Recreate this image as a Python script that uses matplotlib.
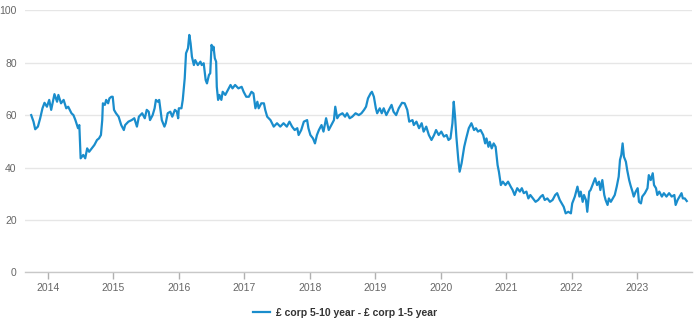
#!/usr/bin/python3

import numpy

from matplotlib import pyplot as plt

# =============================================================================

# spread between the 5-10y and 1-5y sterling corporate indices (decimal years)
years = [
	2013.745, 2013.78, 2013.806, 2013.847, 2013.882, 2013.917, 2013.948, 2013.985,
	2014.02, 2014.05, 2014.10, 2014.14, 2014.16, 2014.20, 2014.24, 2014.28, 2014.31,
	2014.36, 2014.39, 2014.42, 2014.46, 2014.48, 2014.49, 2014.50, 2014.54, 2014.57,
	2014.60, 2014.63, 2014.67, 2014.71, 2014.75, 2014.78, 2014.81, 2014.83, 2014.84,
	2014.87, 2014.89, 2014.92, 2014.94, 2014.97, 2014.99, 2015.01, 2015.04, 2015.08,
	2015.12, 2015.16, 2015.18, 2015.23, 2015.28, 2015.32, 2015.36, 2015.39, 2015.44,
	2015.48, 2015.51, 2015.54, 2015.56, 2015.60, 2015.63, 2015.65, 2015.68, 2015.70,
	2015.72, 2015.74, 2015.78, 2015.80, 2015.83, 2015.87, 2015.90, 2015.94, 2015.97,
	2015.99, 2016.00, 2016.04, 2016.06, 2016.09, 2016.11, 2016.14, 2016.16, 2016.18,
	2016.20, 2016.23, 2016.25, 2016.29, 2016.33, 2016.35, 2016.38, 2016.41, 2016.43,
	2016.46, 2016.48, 2016.50, 2016.52, 2016.53, 2016.55, 2016.57, 2016.58, 2016.60,
	2016.62, 2016.65, 2016.67, 2016.71, 2016.75, 2016.79, 2016.82, 2016.86, 2016.91,
	2016.96, 2016.99, 2017.03, 2017.07, 2017.11, 2017.14, 2017.17, 2017.20, 2017.22,
	2017.26, 2017.30, 2017.32, 2017.35, 2017.40, 2017.45, 2017.50, 2017.55, 2017.60,
	2017.65, 2017.69, 2017.73, 2017.77, 2017.81, 2017.83, 2017.87, 2017.91, 2017.96,
	2017.98, 2018.01, 2018.05, 2018.08, 2018.11, 2018.14, 2018.18, 2018.21, 2018.25,
	2018.29, 2018.33, 2018.37, 2018.39, 2018.42, 2018.45, 2018.50, 2018.54, 2018.57,
	2018.61, 2018.65, 2018.70, 2018.75, 2018.79, 2018.83, 2018.86, 2018.89, 2018.93,
	2018.95, 2018.98, 2019.01, 2019.03, 2019.07, 2019.10, 2019.13, 2019.17, 2019.21,
	2019.25, 2019.28, 2019.32, 2019.36, 2019.41, 2019.45, 2019.49, 2019.52, 2019.57,
	2019.59, 2019.63, 2019.67, 2019.71, 2019.74, 2019.78, 2019.82, 2019.86, 2019.90,
	2019.93, 2019.97, 2020.01, 2020.05, 2020.09, 2020.12, 2020.15, 2020.18, 2020.20,
	2020.22, 2020.24, 2020.27, 2020.29, 2020.32, 2020.36, 2020.39, 2020.43, 2020.47,
	2020.51, 2020.54, 2020.57, 2020.61, 2020.65, 2020.68, 2020.70, 2020.73, 2020.75,
	2020.78, 2020.81, 2020.84, 2020.87, 2020.89, 2020.92, 2020.95, 2020.99, 2021.03,
	2021.07, 2021.10, 2021.13, 2021.17, 2021.21, 2021.24, 2021.27, 2021.31, 2021.34,
	2021.37, 2021.41, 2021.45, 2021.49, 2021.53, 2021.56, 2021.59, 2021.63, 2021.67,
	2021.71, 2021.75, 2021.78, 2021.82, 2021.85, 2021.88, 2021.91, 2021.95, 2021.99,
	2022.01, 2022.05, 2022.09, 2022.12, 2022.14, 2022.17, 2022.19, 2022.22, 2022.24,
	2022.27, 2022.29, 2022.33, 2022.36, 2022.39, 2022.42, 2022.44, 2022.47, 2022.50,
	2022.52, 2022.55, 2022.57, 2022.60, 2022.63, 2022.66, 2022.69, 2022.72, 2022.74,
	2022.76, 2022.78, 2022.80, 2022.83, 2022.85, 2022.88, 2022.90, 2022.93, 2022.95,
	2022.98, 2023.01, 2023.03, 2023.06, 2023.08, 2023.12, 2023.16, 2023.18, 2023.21,
	2023.24, 2023.26, 2023.29, 2023.31, 2023.34, 2023.38, 2023.41, 2023.45, 2023.49,
	2023.53, 2023.57, 2023.59, 2023.62, 2023.65, 2023.68, 2023.70, 2023.73, 2023.76,
]

spread = [
	60.0, 57.5, 54.6, 55.6, 58.8, 62.6, 64.7, 63.2,
	65.8, 62.0, 68.0, 65.1, 67.7, 64.5, 65.8, 62.6, 63.2,
	60.7, 60.0, 58.1, 55.0, 56.2, 49.8, 43.5, 44.8, 43.5,
	47.3, 46.0, 47.3, 48.6, 50.5, 51.1, 52.4, 58.1, 64.5,
	63.9, 65.8, 64.5, 66.4, 67.0, 67.0, 62.0, 60.7, 59.4,
	56.2, 54.3, 56.2, 57.5, 58.1, 58.8, 55.6, 59.4, 60.7,
	58.8, 62.0, 61.3, 58.1, 60.0, 62.6, 65.8, 65.1, 65.8,
	62.0, 58.1, 55.6, 56.9, 60.7, 61.3, 59.4, 62.0, 61.3,
	58.8, 62.6, 62.6, 65.8, 74.0, 83.6, 85.5, 90.6, 87.4,
	82.3, 79.1, 81.0, 79.1, 80.4, 79.1, 79.8, 73.4, 72.1,
	75.3, 76.0, 86.8, 84.8, 86.1, 81.7, 80.4, 70.8, 65.8,
	67.7, 65.8, 68.9, 67.7, 69.6, 71.5, 70.2, 71.5, 70.2,
	70.8, 68.9, 67.0, 67.0, 68.9, 68.3, 62.6, 65.1, 62.6,
	64.5, 64.5, 62.0, 59.4, 58.1, 55.6, 56.9, 55.6, 56.9,
	55.6, 57.5, 55.6, 54.3, 55.0, 52.4, 54.3, 57.5, 58.1,
	55.0, 52.4, 51.1, 49.2, 52.4, 54.3, 56.2, 53.7, 58.8,
	54.3, 56.2, 58.1, 63.2, 58.8, 60.0, 60.7, 59.4, 60.7,
	58.8, 59.4, 60.7, 60.0, 60.7, 62.0, 63.2, 66.4, 68.3,
	68.9, 67.0, 62.6, 60.7, 62.6, 60.7, 62.6, 60.0, 62.0,
	63.9, 61.3, 60.0, 62.6, 64.7, 64.5, 62.0, 57.5, 58.1,
	56.2, 57.5, 55.0, 56.9, 53.7, 55.6, 52.4, 50.5, 52.4,
	54.3, 52.4, 53.7, 51.8, 52.4, 50.5, 51.1, 56.9, 65.1,
	59.4, 51.8, 42.9, 38.4, 41.6, 47.9, 51.1, 55.0, 56.9,
	54.3, 55.0, 53.7, 54.3, 52.4, 49.2, 51.1, 47.9, 49.8,
	47.3, 49.2, 47.9, 40.9, 38.4, 33.3, 34.6, 33.3, 34.6,
	32.7, 31.4, 29.5, 32.1, 30.8, 32.1, 30.2, 30.8, 28.2,
	29.5, 28.2, 26.9, 27.6, 28.9, 29.5, 27.6, 28.2, 26.9,
	27.6, 29.5, 30.2, 27.6, 26.3, 25.0, 22.5, 23.1, 22.5,
	26.3, 28.9, 32.7, 28.9, 30.8, 26.9, 29.5, 27.6, 23.1,
	30.8, 31.4, 34.0, 35.9, 33.3, 34.6, 31.4, 35.2, 29.5,
	27.6, 25.7, 28.2, 26.9, 28.2, 29.5, 32.7, 36.5, 42.9,
	44.8, 49.2, 44.1, 42.2, 39.0, 35.2, 33.3, 30.8, 28.9,
	30.8, 32.1, 26.9, 26.3, 28.9, 30.2, 32.1, 37.1, 35.2,
	37.8, 33.3, 32.1, 29.5, 30.8, 28.9, 30.2, 28.9, 30.2,
	28.9, 29.5, 25.7, 27.6, 28.9, 30.2, 28.2, 28.2, 27.2,
]

tick_years  = [2014, 2015, 2016, 2017, 2018, 2019, 2020, 2021, 2022, 2023]
y_ticks     = [0, 20, 40, 60, 80, 100]
series_name = "£ corp 5-10 year - £ corp 1-5 year"

# =============================================================================

if __name__ == '__main__':

	plt.rcParams['font.family'] = ['Liberation Sans', 'DejaVu Sans']

	fig = plt.figure(figsize=(6.98, 3.26), dpi=100)
	ax  = fig.add_axes([25/698, 1 - 272.3/326, 667/698, 262/326])

	ax.plot(numpy.array(years), numpy.array(spread), color='#1a8dcc', linewidth=1.6,
	        solid_joinstyle='round', label=series_name)

	ax.set_xlim(2013.65, 2023.84)
	ax.set_ylim(0, 100)

	ax.set_yticks(y_ticks)
	ax.set_yticklabels([str(v) for v in y_ticks])
	ax.set_xticks(tick_years)
	ax.set_xticklabels([str(y) for y in tick_years])

	ax.grid(axis='y', color='#e6e6e6', linewidth=1.0)
	ax.set_axisbelow(True)

	for side in ['left', 'right', 'top']:
		ax.spines[side].set_visible(False)
	ax.spines['bottom'].set_color('#c8c8c8')
	ax.spines['bottom'].set_linewidth(1.0)

	ax.tick_params(axis='y', length=0, pad=6, labelsize=7.5, labelcolor='#666666')
	ax.tick_params(axis='x', length=5, width=1.0, color='#b0b0b0', pad=3,
	               labelsize=7.5, labelcolor='#666666')

	leg = fig.legend(loc='center', bbox_to_anchor=(0.495, 0.04), frameon=False,
	                 handlelength=1.6, handletextpad=0.6,
	                 prop={'size': 7.5, 'weight': 'bold'})
	for text in leg.get_texts():
		text.set_color('#333333')

	plt.savefig('out.png', dpi=100)
